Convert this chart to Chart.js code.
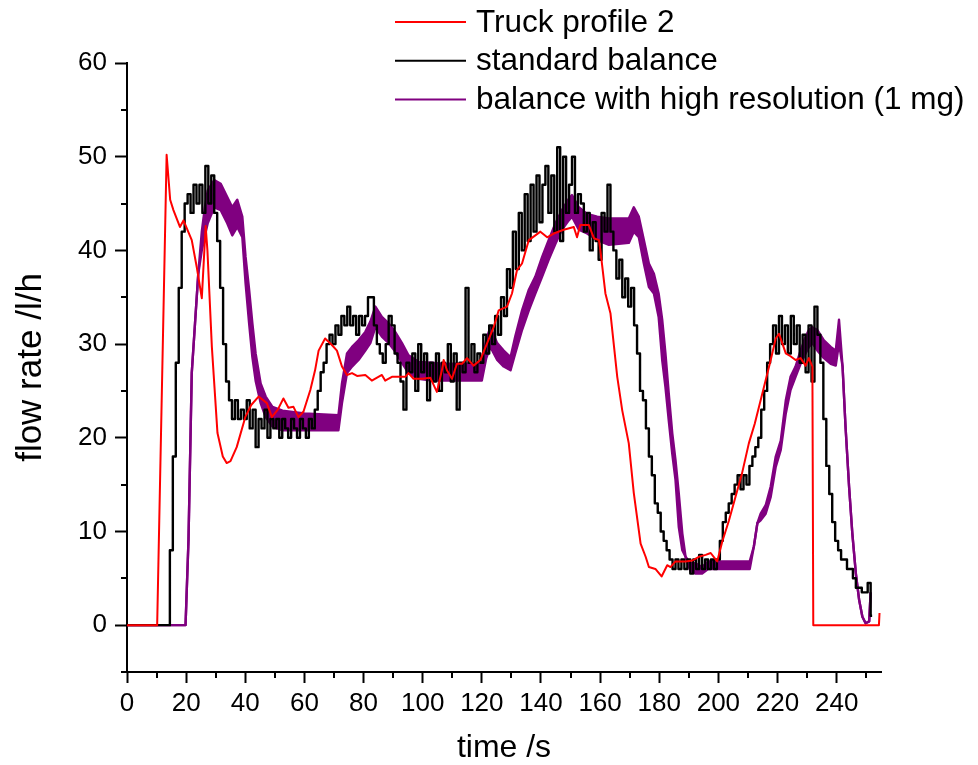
<!DOCTYPE html>
<html>
<head>
<meta charset="utf-8">
<script src="https://cdn.jsdelivr.net/npm/chart.js@4/dist/chart.umd.min.js"></script>
<style>
  html, body { margin:0; padding:0; background:#fff; }
  #wrap { width:978px; height:765px; }
</style>
</head>
<body>
<div id="wrap"><canvas id="flowChart" width="978" height="765"></canvas></div>
<script>
// series names (legend)
const seriesNames = ['Truck profile 2', 'standard balance', 'balance with high resolution (1 mg)'];

// Truck profile 2: [time s, flow l/h]
const truckProfile = [
  [0,0],[10.2,0],[13.4,50.2],[14.6,45.4],[15.7,44.3],[17.9,42.5],[19.1,43.2],[21.9,41.1],
  [23.6,38.2],[25.3,34.9],[26.6,42.6],[27.2,40],[28.7,29.7],[30.6,20.5],[32.4,18],[33.7,17.3],
  [35,17.5],[37.1,19],[40,22.2],[42,23.5],[44.5,24.4],[47.3,23.7],[49,22.2],[51,23],[52.9,24.2],
  [54.6,23.2],[56.3,23.3],[58,22.2],[59.7,22.8],[62,25.1],[63.6,27.2],[64.8,29.3],[67,30.6],
  [69.3,29.9],[71,29.3],[72.7,27.6],[74.4,26.7],[76.1,26.9],[77.8,26.6],[80.6,26.7],[82.8,26.1],
  [86.2,26.7],[87.3,26.1],[89.6,26.5],[94.1,26.5],[95.2,26.9],[96.9,26.3],[99.8,26.3],[102.6,26.4],
  [104.8,24.9],[106.5,27.2],[107.1,28.3],[108.2,27.2],[109.9,26.3],[111.6,27.9],[113.3,27.9],
  [115,28.5],[117.2,27.7],[119.5,28.3],[121.8,30.1],[124,31.8],[125.7,33.6],[128.5,34],[130.2,35.4],
  [131.9,37.9],[133.6,38.6],[135.9,41.1],[138.1,41.6],[139.8,42],[142.1,41.4],[144.3,41.8],
  [147.7,42.2],[151.1,42.5],[152.2,41.4],[153.3,42.7],[156.2,42.7],[157.9,41.3],[159.6,41.1],
  [160.1,40],[161.8,35.4],[163.5,33.3],[165.8,26.5],[167.5,22.9],[169.7,19.4],[171.4,14.1],
  [173.7,8.7],[175.4,7.3],[176.5,6.2],[178.7,6],[180.8,5.2],[182.7,6.4],[183.8,6.2],[185.5,6.8],
  [188.9,6.8],[191.2,6.9],[193.4,7.3],[195.7,7.5],[197.4,7.7],[199.6,6.8],[201.3,8.9],[203.6,11.2],
  [205.8,13.7],[208,16.2],[210.3,19.4],[212.3,21.5],[215.4,25.4],[217.7,28.3],[219.4,30.6],
  [220.5,31.1],[221.6,30.1],[222.8,29],[224.4,28.7],[226.1,28.3],[227.8,28.5],[229.5,27.7],
  [230.6,28.5],[231.8,27.6],[232.1,0],[254.3,0],[254.5,1.3]
];

// standard balance: one reading per second from t = 0 s
const standardBalance = [
  0,0,0,0,0,0,0,0,0,0,0,0,0,0,
  0,8,18,28,36,42,
  45,46,44,47,45,47,44,49,45,48,
  44,41,36,30,26,24,22,24,22,23,
  22,24,21,23,19,22,21,23,20,22,
  21,22,20,22,21,20,22,21,20,22,
  21,20,22,21,23,25,27,28,30,31,
  30,32,31,33,32,34,32,33,31,33,
  32,33,35,35,32,30,29,28,30,33,
  32,29,28,26,23,28,27,29,25,30,
  27,29,24,28,26,29,25,28,27,30,
  26,29,23,28,27,36,28,30,27,29,
  28,31,29,32,30,33,31,35,33,38,
  36,42,38,44,40,46,41,47,42,48,
  43,47,49,44,48,42,51,41,50,44,
  47,50,44,46,45,42,44,40,43,41,
  39,44,42,47,42,40,37,39,35,37,
  34,36,32,29,25,24,21,18,16,13,
  12,10,9,8,7,6,7,6,7,6,
  7,5.5,7,6,7.5,6,7,6,7,6,
  7,9,11,12,13,14,15,16,14.5,16,
  15,17,18,19,20,23,25,28,30,32,
  29,33,30,32,29,33,30,32,28,31,
  27,32,26,34,31,28,22,17,14,11,
  9,8,7,7,6,6,5,4,4,3.5,
  3.5,4.5,1
];

// high resolution balance: fast oscillation drawn as a band [time, upper, lower]
const highResTime = [
  0,19.8,20.8,21.9,23,24.1,25.3,26.3,27.3,29.5,31.7,33.9,35.6,37.3,39,40.1,41.3,42.4,43.5,45.2,
  46.9,49.2,52.6,60,71.5,72.7,74.4,76.1,78.3,80.6,82.3,84,86.2,88.5,90.7,93,95.2,98.6,103.1,106.5,
  113,120,121.5,122.9,125.2,127.4,129.7,131.3,133.6,135.9,138.1,140.4,142.6,144.9,147.1,149.4,150.5,
  152.8,155.6,159,163,169.7,171.4,173.1,174.8,176.5,178.2,179.8,181,182.1,183.2,184.4,185.5,186.6,
  187.8,188.9,190.5,192.3,194.5,196.5,210.6,212,213.2,214.3,216,217.7,219.4,221.1,222.8,224.4,226.1,
  227.8,229.5,230.6,231.8,233.5,235.7,238,239.7,240.8,242,243,244.2,245.3,246.5,247.6,248.7,249.8,
  251,251.5
];
const highResUpper = [
  0,0,9.1,26.9,32.2,37.5,42,44.5,46.4,47.5,47.1,45.7,44.6,45.4,43.6,39.3,35.8,32.2,29,25.8,
  24.4,23.3,22.9,22.6,22.4,25.8,29,29.7,30.4,31.3,32.4,34,32.9,32.2,31.3,30.1,28.8,28.1,28,27.9,
  27.9,27.9,30.5,31.8,30.1,29.3,28.6,30.8,33.6,35.8,37.2,39.3,41.1,42.9,44.3,45.5,45.9,
  44.6,43.9,43.6,43.4,43.4,44.6,43.6,41.1,38.6,37.5,35.4,32.6,29,24.8,20.5,17.6,14.1,
  9.8,7.3,6.6,6.6,6.2,6.8,6.8,8.4,10.9,11.9,12.8,14.8,18,19.7,24,26.5,27.6,
  29.3,30.8,31.5,31.8,31.5,30.4,29.7,29.3,32.6,27.6,21.2,14.8,9.8,5.5,2.7,0.9,0.2,
  0.4,3.5
];
const highResLower = [
  0,0,9.1,26.9,32.2,37.5,40,41.5,42.9,44.6,44.3,42.9,41.6,42.5,41.4,36.5,32.2,28.6,26.1,23.7,
  22.2,21.2,20.8,20.8,20.8,23.7,26.9,27.6,28.3,29.3,30.1,31.8,30.8,30.1,29.2,28,26.9,26.3,26.1,26.1,
  26.1,26.1,28.5,29.7,28.3,27.6,27.2,29,31.5,33.6,35.4,37.2,39,40.7,42.2,43.2,43.6,
  42.2,41.8,41.1,40.6,40.8,42,41.4,38.6,36.1,35.4,32.9,28.3,25.4,21.9,18.3,15.5,10.5,
  8,7.3,5.8,5.5,5.5,6,6,8.4,10.9,11.2,11.9,13.7,16.9,18.7,22.6,25.1,26.5,
  27.9,29,29.7,30.1,29.3,28.5,27.9,27.7,30.1,27.6,21.2,14.8,9.8,5.5,2.7,0.9,0.2,
  0.4,3.5
];

// axis ticks
const xTickStep = 10, xLabelStep = 20;
const yTickStep = 5, yLabelStep = 10;

const RED = '#ff0000', BLACK = '#000000', PURPLE = '#800080';
const FONT = "'Liberation Sans', Arial, sans-serif";
Chart.defaults.font.family = FONT;
Chart.defaults.color = '#000';

const minorTicks = {
  id: 'minorTicks',
  afterDraw(chart) {
    const ctx = chart.ctx, xs = chart.scales.x, ys = chart.scales.y;
    ctx.save();
    ctx.strokeStyle = '#000';
    ctx.lineWidth = 2;
    ctx.beginPath();
    xs.ticks.forEach(t => {
      if (t.value % xLabelStep !== 0) {
        const px = Math.round(xs.getPixelForValue(t.value));
        ctx.moveTo(px, xs.top); ctx.lineTo(px, xs.top + 6);
      }
    });
    ys.ticks.forEach(t => {
      if (t.value % yLabelStep !== 0) {
        const py = Math.round(ys.getPixelForValue(t.value));
        ctx.moveTo(ys.right, py); ctx.lineTo(ys.right - 6, py);
      }
    });
    ctx.stroke();
    ctx.restore();
  }
};

const legendBox = {
  id: 'legendBox',
  afterDraw(chart) {
    const ctx = chart.ctx;
    const cols = [RED, BLACK, PURPLE];
    ctx.save();
    ctx.font = '31.5px ' + FONT;
    ctx.textBaseline = 'middle';
    ctx.fillStyle = '#000';
    seriesNames.forEach((name, i) => {
      const y = 22 + i * 38.7;
      ctx.strokeStyle = cols[i];
      ctx.lineWidth = 2;
      ctx.beginPath(); ctx.moveTo(395, y); ctx.lineTo(466, y); ctx.stroke();
      ctx.fillText(name, 476, y + 1);
    });
    ctx.restore();
  }
};

const lineBase = { pointRadius: 0, borderWidth: 2, tension: 0, borderJoinStyle: 'round', fill: false };

new Chart(document.getElementById('flowChart'), {
  type: 'line',
  data: {
    datasets: [
      { ...lineBase, label: seriesNames[0], borderColor: RED,
        data: truckProfile.map(p => ({ x: p[0], y: p[1] })) },
      { ...lineBase, label: seriesNames[1], borderColor: BLACK, borderWidth: 2.4, stepped: 'middle',
        data: standardBalance.map((v, i) => ({ x: i, y: v })) },
      { ...lineBase, label: seriesNames[2], borderColor: PURPLE, borderWidth: 2.4,
        data: highResTime.map((t, i) => ({ x: t, y: highResUpper[i] })) },
      { ...lineBase, label: seriesNames[2] + ' (lower)', borderColor: PURPLE, borderWidth: 2.4,
        backgroundColor: PURPLE, fill: '-1',
        data: highResTime.map((t, i) => ({ x: t, y: highResLower[i] })) }
    ]
  },
  options: {
    responsive: false,
    animation: false,
    events: [],
    layout: { padding: { left: 0, top: 63, right: 97, bottom: 0 } },
    plugins: { legend: { display: false }, tooltip: { enabled: false } },
    scales: {
      x: {
        type: 'linear', min: 0, max: 255,
        border: { display: true, color: '#000', width: 2 },
        grid: { drawOnChartArea: false, drawTicks: true, tickLength: 11, tickWidth: 2,
                tickColor: c => (c.tick && c.tick.value % xLabelStep === 0) ? '#000' : 'rgba(0,0,0,0)' },
        ticks: { stepSize: xTickStep, includeBounds: false, autoSkip: false, maxRotation: 0, padding: 8,
                 font: { size: 26, lineHeight: 1 }, color: '#000',
                 callback: v => (v % xLabelStep === 0 ? String(v) : '') },
        title: { display: true, text: 'time /s', font: { size: 32, lineHeight: 1 }, color: '#000',
                 padding: { top: 0, bottom: 1 } },
        afterFit: s => { s.height = 93; }
      },
      y: {
        type: 'linear', min: -5, max: 60,
        border: { display: true, color: '#000', width: 2 },
        grid: { drawOnChartArea: false, drawTicks: true, tickLength: 12, tickWidth: 2,
                tickColor: c => (c.tick && c.tick.value % yLabelStep === 0) ? '#000' : 'rgba(0,0,0,0)' },
        ticks: { stepSize: yTickStep, autoSkip: false, padding: 8,
                 font: { size: 26, lineHeight: 1 }, color: '#000',
                 callback: v => (v % yLabelStep === 0 ? String(v) : '') },
        title: { display: true, text: 'flow rate /l/h', font: { size: 35, lineHeight: 1 }, color: '#000',
                 padding: { top: 14, bottom: 0 } },
        afterFit: s => { s.width = 127; }
      }
    }
  },
  plugins: [minorTicks, legendBox]
});
</script>
</body>
</html>
